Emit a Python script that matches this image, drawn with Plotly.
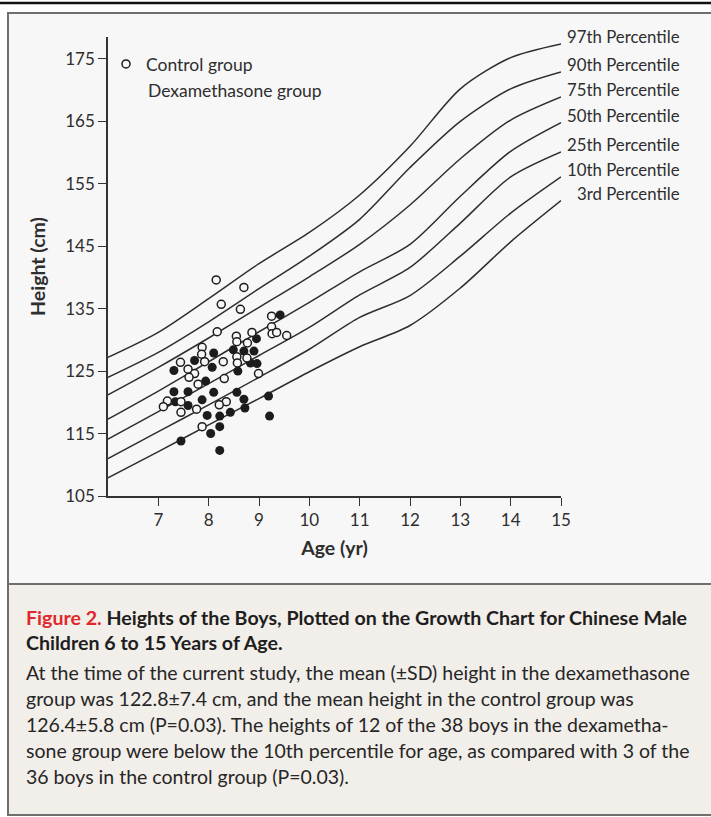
import plotly.graph_objects as go

# Reference growth curves: height (cm) at each whole year of age
ages = [6, 7, 8, 9, 10, 11, 12, 13, 14, 15]
p97 = [127.2, 131.2, 136.6, 142.2, 147.2, 153.2, 161.0, 170.2, 175.2, 177.4]
p90 = [124.0, 128.0, 132.9, 138.2, 143.4, 149.3, 157.6, 165.0, 170.2, 172.9]
p75 = [121.2, 125.6, 130.3, 135.2, 140.1, 145.3, 151.6, 159.0, 165.2, 168.9]
p50 = [117.3, 121.8, 126.5, 131.3, 136.0, 140.9, 145.3, 153.0, 160.2, 164.8]
p25 = [114.1, 118.5, 123.0, 127.5, 132.0, 137.2, 141.6, 148.7, 156.1, 160.1]
p10 = [111.0, 115.3, 119.6, 124.0, 128.5, 133.6, 137.1, 143.4, 150.3, 156.1]
p3 = [107.9, 112.1, 116.4, 120.6, 124.9, 128.9, 132.3, 138.3, 145.7, 152.3]
percentile_curves = [p97, p90, p75, p50, p25, p10, p3]
percentile_labels = ["97th Percentile", "90th Percentile", "75th Percentile",
                     "50th Percentile", "25th Percentile", "10th Percentile",
                     "3rd Percentile"]

# Individual boys: age (yr) and height (cm)
control_age = [8.15, 8.70, 8.25, 8.63, 9.25, 8.17, 9.25, 9.26, 9.35, 9.55,
               8.55, 8.86, 8.56, 8.77, 7.87, 7.86, 8.56, 7.44, 7.92, 8.29,
               8.76, 8.57, 7.59, 7.72, 7.61, 8.99, 8.31, 7.79, 7.18, 7.10,
               7.45, 8.35, 8.21, 7.45, 7.76, 7.87]
control_height = [139.6, 138.4, 135.7, 134.9, 133.8, 131.3, 132.1, 131.0, 131.2, 130.7,
                  130.6, 131.2, 129.7, 129.5, 128.8, 127.7, 127.3, 126.4, 126.5, 126.5,
                  127.1, 126.3, 125.3, 124.6, 124.0, 124.6, 123.8, 122.9, 120.2, 119.3,
                  120.1, 120.1, 119.6, 118.4, 118.9, 116.1]
dex_age = [9.42, 8.95, 8.49, 8.70, 8.90, 8.10, 7.72, 8.83, 8.96, 7.31,
           8.07, 8.58, 7.94, 7.31, 7.59, 8.10, 8.56, 7.34, 7.87, 7.59,
           8.70, 9.19, 8.43, 7.97, 8.22, 8.72, 9.21, 8.22, 8.04, 7.45, 8.22]
dex_height = [134.0, 130.2, 128.4, 128.2, 128.2, 127.9, 126.7, 126.3, 126.2, 125.1,
              125.6, 125.0, 123.4, 121.7, 121.7, 121.6, 121.6, 120.1, 120.4, 119.5,
              120.5, 121.0, 118.4, 117.9, 117.8, 119.1, 117.8, 116.1, 115.0, 113.8, 112.3]

x_ticks = [7, 8, 9, 10, 11, 12, 13, 14, 15]
y_ticks = [105, 115, 125, 135, 145, 155, 165, 175]

caption_title = [
    "<b><span style='color:#e0282c'>Figure 2.</span> Heights of the Boys, Plotted on the "
    "Growth Chart for Chinese Male</b>",
    "<b>Children 6 to 15 Years of Age.</b>",
]
caption_body = [
    "At the time of the current study, the mean (±SD) height in the dexamethasone",
    "group was 122.8±7.4 cm, and the mean height in the control group was",
    "126.4±5.8 cm (P=0.03). The heights of 12 of the 38 boys in the dexametha-",
    "sone group were below the 10th percentile for age, as compared with 3 of the",
    "36 boys in the control group (P=0.03).",
]

# ---- page geometry (pixels) ----
W, H = 711, 817
ML, MR, MT, MB = 108, 150, 37, 321
PW, PH = W - ML - MR, H - MT - MB


def fx(px):
    return (px - ML) / PW


def fy(py):
    return (H - MB - py) / PH


FONT = "Lato, 'Open Sans', sans-serif"
INK = "#2e2e2e"
FRAME = "#6e6e6e"
PANEL = "#f7f7f7"
CAPTION_BG = "#f2eee9"

fig = go.Figure()

for curve in percentile_curves:
    fig.add_trace(go.Scatter(
        x=ages, y=curve, mode="lines", line=dict(color=INK, width=1.5, shape="spline", smoothing=0.8),
        showlegend=False, hoverinfo="skip"))

fig.add_trace(go.Scatter(
    x=dex_age, y=dex_height, mode="markers", name="Dexamethasone group",
    marker=dict(symbol="circle", size=9, color="#1c1c1c", line=dict(width=0)),
    showlegend=False))

fig.add_trace(go.Scatter(
    x=control_age, y=control_height, mode="markers", name="Control group",
    marker=dict(symbol="circle", size=8, color=PANEL, line=dict(color="#1c1c1c", width=1.5)),
    showlegend=True))

annotations = []
for label, curve in zip(percentile_labels, percentile_curves):
    annotations.append(dict(
        x=ages[-1], y=curve[-1], xref="x", yref="y", text=label, showarrow=False,
        xanchor="right", yanchor="middle", xshift=121, yshift=7,
        font=dict(family=FONT, size=16.8, color=INK)))

annotations.append(dict(
    x=fx(146), y=fy(90), xref="paper", yref="paper", text="Dexamethasone group",
    showarrow=False, xanchor="left", yanchor="middle",
    font=dict(family=FONT, size=17.5, color=INK)))

for i, line in enumerate(caption_title):
    annotations.append(dict(
        x=fx(24), y=fy(617 + 25 * i), xref="paper", yref="paper", text=line,
        showarrow=False, xanchor="left", yanchor="middle",
        font=dict(family=FONT, size=19.6, color="#1e1e1e")))

for i, line in enumerate(caption_body):
    annotations.append(dict(
        x=fx(24), y=fy(672 + 26 * i), xref="paper", yref="paper", text=line,
        showarrow=False, xanchor="left", yanchor="middle",
        font=dict(family=FONT, size=19.5, color="#262626")))

shapes = [
    dict(type="rect", xref="paper", yref="paper", x0=fx(8), x1=fx(716), y0=fy(13), y1=fy(584),
         line=dict(color=FRAME, width=2), fillcolor=PANEL, layer="below"),
    dict(type="rect", xref="paper", yref="paper", x0=fx(8), x1=fx(716), y0=fy(584), y1=fy(815),
         line=dict(color=FRAME, width=2), fillcolor=CAPTION_BG, layer="below"),
    dict(type="line", xref="paper", yref="paper", x0=fx(0), x1=fx(711), y0=fy(3), y1=fy(3),
         line=dict(color="#111111", width=2.5)),
]

axis_common = dict(
    showline=True, linecolor="#333333", linewidth=1.5, ticks="outside", ticklen=8,
    tickwidth=1.3, tickcolor="#333333", showgrid=False, zeroline=False,
    tickfont=dict(family=FONT, size=17, color=INK))

fig.update_layout(
    width=W, height=H, margin=dict(l=ML, r=MR, t=MT, b=MB, pad=0),
    paper_bgcolor="white", plot_bgcolor=PANEL,
    xaxis=dict(range=[6, 15], tickvals=x_ticks,
               title=dict(text="<b>Age (yr)</b>", standoff=12,
                          font=dict(family=FONT, size=19.5, color=INK)),
               **axis_common),
    yaxis=dict(range=[105, 178.5], tickvals=y_ticks,
               title=dict(text="<b>Height (cm)</b>", standoff=14,
                          font=dict(family=FONT, size=19.5, color=INK)),
               **axis_common),
    legend=dict(x=fx(106), y=fy(46), xanchor="left", yanchor="top", bgcolor="rgba(0,0,0,0)",
                font=dict(family=FONT, size=17.5, color=INK), itemwidth=30),
    annotations=annotations, shapes=shapes,
)

fig.write_html("out.html")
